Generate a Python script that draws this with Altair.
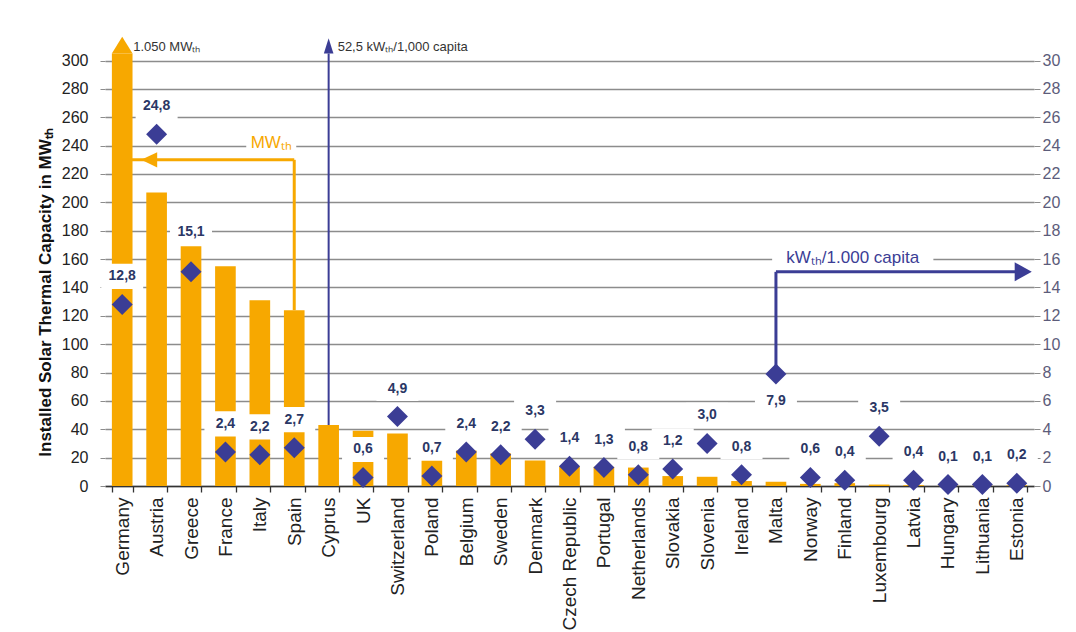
import altair as alt
import pandas as pd

# ---------------- data ----------------
countries = ["Germany", "Austria", "Greece", "France", "Italy", "Spain", "Cyprus", "UK",
             "Switzerland", "Poland", "Belgium", "Sweden", "Denmark", "Czech Republic",
             "Portugal", "Netherlands", "Slovakia", "Slovenia", "Ireland", "Malta", "Norway",
             "Finland", "Luxembourg", "Latvia", "Hungary", "Lithuania", "Estonia"]
mw_values = [1050, 207, 169, 155, 131, 124, 43, 39, 37, 28, 25, 23, 18, 14, 13.5, 13,
             7, 6.5, 3.5, 3, 1.5, 2, 1, 0.6, 0.3, 0.2, 0.5]
kw_values = [12.8, 24.8, 15.1, 2.4, 2.2, 2.7, 52.5, 0.6, 4.9, 0.7, 2.4, 2.2, 3.3, 1.4, 1.3,
             0.8, 1.2, 3.0, 0.8, 7.9, 0.6, 0.4, 3.5, 0.4, 0.1, 0.1, 0.2]

left_ticks = list(range(0, 301, 20))
right_ticks = list(range(0, 31, 2))

# labels placed higher (clear of the bar) or below the marker
labels_high = ["Greece"]
labels_below = ["Malta"]

# annotation arrows (legend-like call-outs)
mw_note_from, mw_note_to, mw_note_level, mw_note_text_y = "Spain", "Germany", 230, 242
kw_note_from, kw_note_to, kw_note_level = "Malta", "Estonia", 151
kw_note_text_at, kw_note_text_y = "Finland", 160.5

df = pd.DataFrame({"country": countries, "mw": mw_values, "kw": kw_values})

# ---------------- style ----------------
ORANGE = "#f7a800"
NAVY = "#3b3d95"
LABEL = "#2b3765"
FONT = "Liberation Sans"
GRID = "#8c8c8c"
Y_MAX = 318
CAP = 305

xscale = alt.Scale(domain=countries, paddingInner=0.4, paddingOuter=0.2)
x_axis = alt.Axis(title=None, labelAngle=-90, labelAlign="right", labelBaseline="middle",
                  labelFontSize=19, labelColor="#222222", labelFont=FONT, labelPadding=5,
                  tickBand="extent", ticks=True, tickSize=6, tickColor="#333333",
                  tickWidth=1.3, domainColor="#333333", domainWidth=1.6, grid=False)


def X(field="country"):
    return alt.X(f"{field}:N", sort=countries, scale=xscale, axis=x_axis)


yscale = alt.Scale(domain=[0, Y_MAX], nice=False)
y_axis = alt.Axis(title="Installed Solar Thermal Capacity in MWₜₕ", orient="left",
                  values=left_ticks, grid=True, gridColor=GRID, gridWidth=1.4,
                  domain=False, ticks=True, tickSize=5, tickColor=GRID,
                  labelFontSize=16, labelColor="#222222", labelFont=FONT, labelPadding=12,
                  titleFont=FONT, titleFontSize=17, titleFontWeight="bold",
                  titleColor="#111111", titleX=-60, titleY=257, titleAngle=270,
                  titleAlign="center", titleBaseline="middle")


def Y(field):
    return alt.Y(f"{field}:Q", scale=yscale, axis=y_axis)


base = alt.Chart(df)

# bars (Germany capped, with an arrow head)
bars = base.transform_calculate(mw_draw=f"min(datum.mw, {CAP})").mark_bar(
    color=ORANGE).encode(x=X(), y=Y("mw_draw"))

over = base.transform_filter("datum.mw > 300").transform_calculate(
    mw_draw=f"min(datum.mw, {CAP})",
    txt="replace(format(datum.mw, ',.0f'), ',', '.') + ' MWₜₕ'")
g_head = over.mark_point(shape="M0,-1.6L-1,0L1,0Z", size=430, filled=True, color=ORANGE,
                         opacity=1, strokeWidth=0).encode(x=X(), y=Y("mw_draw"))
g_text = over.mark_text(align="left", baseline="middle", dx=11, dy=-6, fontSize=13,
                        font=FONT, color="#333333").encode(x=X(), y=Y("mw_draw"), text="txt:N")

# value labels with white boxes
labelled = base.transform_filter("datum.kw < 30").transform_calculate(
    kw10="datum.kw * 10", lab="replace(format(datum.kw, '.1f'), '.', ',')")


def label_layers(filter_expr, offset):
    src = labelled.transform_filter(filter_expr)
    box = src.mark_point(shape="M-1,-0.6L1,-0.6L1,0.6L-1,0.6Z", size=1764, filled=True,
                         color="white", opacity=1, strokeWidth=0, yOffset=offset).encode(
        x=X(), y=Y("kw10"))
    txt = src.mark_text(dy=offset, fontSize=14, fontWeight="bold", font=FONT,
                        color=LABEL, baseline="middle").encode(
        x=X(), y=Y("kw10"), text="lab:N")
    return [box, txt]


special = labels_high + labels_below
lab_default = label_layers(f"indexof({special}, datum.country) < 0", -28)
lab_high = label_layers(f"indexof({labels_high}, datum.country) >= 0", -40)
lab_below = label_layers(f"indexof({labels_below}, datum.country) >= 0", 27)

# Cyprus off-scale arrow
cy = base.transform_filter("datum.kw >= 30").transform_calculate(
    top=f"min(datum.kw * 10, {CAP})",
    txt="replace(format(datum.kw, '.1f'), '.', ',') + ' kWₜₕ/1,000 capita'")
cy_rule = cy.mark_rule(color=NAVY, strokeWidth=2).encode(x=X(), y=Y("mw"), y2="top:Q")
cy_head = cy.mark_point(shape="M0,-1.9L-0.6,0L0.6,0Z", size=256, filled=True, color=NAVY,
                        opacity=1, strokeWidth=0).encode(x=X(), y=Y("top"))
cy_text = cy.mark_text(align="left", baseline="middle", dx=9, dy=-6, fontSize=13,
                       font=FONT, color="#333333").encode(x=X(), y=Y("top"), text="txt:N")

# MW call-out
spain_mw = mw_values[countries.index(mw_note_from)]
mw_v = alt.Chart(pd.DataFrame({"c": [mw_note_from], "y": [spain_mw], "y2": [mw_note_level]}))
mw_vrule = mw_v.mark_rule(color=ORANGE, strokeWidth=3).encode(x=X("c"), y=Y("y"), y2="y2:Q")
mw_h = alt.Chart(pd.DataFrame({"c": [mw_note_from], "c2": [mw_note_to], "y": [mw_note_level]}))
mw_hrule = mw_h.mark_rule(color=ORANGE, strokeWidth=3).encode(x=X("c"), x2="c2:N", y=Y("y"))
mw_head = mw_h.mark_point(shape="M0,0L2,-0.95L2,0.95Z", size=256, filled=True, color=ORANGE,
                          opacity=1, strokeWidth=0, xOffset=19).encode(x=X("c2"), y=Y("y"))
mw_t = alt.Chart(pd.DataFrame({"c": [mw_note_from], "y": [mw_note_text_y], "t": ["MWₜₕ"]}))
mw_box = mw_t.mark_point(shape="M-1,-0.38L1,-0.38L1,0.38L-1,0.38Z", size=2500, filled=True,
                         color="white", opacity=1, strokeWidth=0, xOffset=-23).encode(
    x=X("c"), y=Y("y"))
mw_text = mw_t.mark_text(fontSize=17, font=FONT, color=ORANGE, baseline="middle",
                         xOffset=-23).encode(x=X("c"), y=Y("y"), text="t:N")

# kW call-out
malta_kw10 = kw_values[countries.index(kw_note_from)] * 10
kw_v = alt.Chart(pd.DataFrame({"c": [kw_note_from], "y": [malta_kw10], "y2": [kw_note_level]}))
kw_vrule = kw_v.mark_rule(color=NAVY, strokeWidth=3).encode(x=X("c"), y=Y("y"), y2="y2:Q")
kw_h = alt.Chart(pd.DataFrame({"c": [kw_note_from], "c2": [kw_note_to], "y": [kw_note_level]}))
kw_hrule = kw_h.mark_rule(color=NAVY, strokeWidth=3).encode(x=X("c"), x2="c2:N", y=Y("y"))
kw_head = kw_h.mark_point(shape="M0,0L-1.8,-1L-1.8,1Z", size=361, filled=True, color=NAVY,
                          opacity=1, strokeWidth=0, xOffset=15).encode(x=X("c2"), y=Y("y"))
kw_t = alt.Chart(pd.DataFrame({"c": [kw_note_text_at], "y": [kw_note_text_y],
                               "t": ["kWₜₕ/1.000 capita"]}))
kw_box = kw_t.mark_point(shape="M-1,-0.125L1,-0.125L1,0.125L-1,0.125Z", size=26000,
                         filled=True, color="white", opacity=1, strokeWidth=0,
                         xOffset=8).encode(x=X("c"), y=Y("y"))
kw_text = kw_t.mark_text(fontSize=17, font=FONT, color=NAVY, baseline="middle",
                         xOffset=8).encode(x=X("c"), y=Y("y"), text="t:N")

main = alt.layer(bars, g_head, g_text, *lab_default, *lab_high, *lab_below,
                 cy_rule, cy_head, cy_text,
                 mw_vrule, mw_hrule, mw_head, mw_box, mw_text,
                 kw_vrule, kw_hrule, kw_head, kw_box, kw_text)

right_axis = alt.Axis(title=None, orient="right", values=right_ticks, grid=False, domain=False,
                      ticks=True, tickSize=6, tickColor=GRID, labelFontSize=16,
                      labelColor="#5c5c7a", labelFont=FONT, labelPadding=2)
diamonds = labelled.mark_point(shape="diamond", filled=True, size=440, color=NAVY, opacity=1,
                               strokeWidth=0).encode(
    x=X(), y=alt.Y("kw:Q", scale=alt.Scale(domain=[0, Y_MAX / 10], nice=False), axis=right_axis))

chart = alt.layer(main, diamonds).resolve_scale(y="independent").properties(
    width=929, height=451,
    autosize=alt.AutoSizeParams(type="none"),
    padding={"left": 105, "top": 35, "right": 42, "bottom": 146},
    background="white",
).configure_view(stroke=None)

chart.save("out.html", embed_options={"renderer": "svg", "actions": False})
